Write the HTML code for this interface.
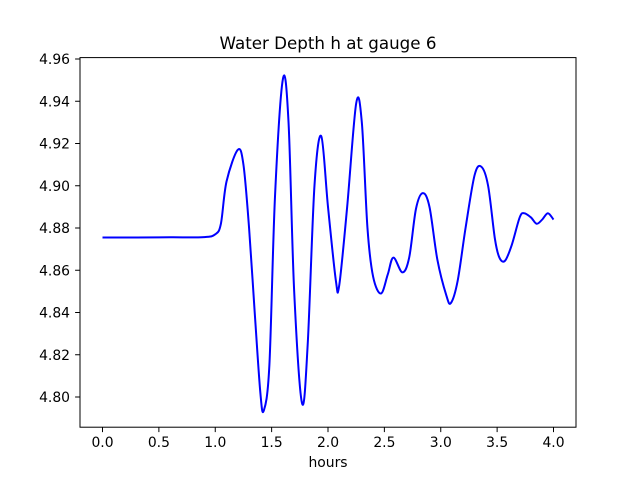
<!DOCTYPE html>
<html><head><meta charset="utf-8"><style>
body{margin:0;background:#fff;}
svg{display:block;font-family:"DejaVu Sans","Liberation Sans",sans-serif;}
</style></head><body>
<svg id="c" width="640" height="480"></svg>
<script>
const xs=[0,0.3,0.6,0.9,1.0,1.05,1.1,1.2,1.25,1.3,1.35,1.4,1.43,1.48,1.53,1.6,1.65,1.7,1.77,1.82,1.88,1.94,2.0,2.07,2.1,2.17,2.25,2.3,2.35,2.4,2.47,2.53,2.58,2.66,2.72,2.78,2.84,2.9,2.97,3.05,3.09,3.15,3.22,3.3,3.36,3.42,3.48,3.52,3.57,3.63,3.7,3.74,3.8,3.85,3.9,3.95,4.0];
const ys=[4.8755,4.8755,4.8756,4.8757,4.877,4.882,4.902,4.917,4.91,4.88,4.84,4.802,4.7935,4.815,4.895,4.9505,4.93,4.85,4.797,4.825,4.9,4.9235,4.89,4.855,4.853,4.89,4.939,4.93,4.88,4.857,4.849,4.858,4.866,4.859,4.866,4.889,4.8965,4.89,4.865,4.848,4.8445,4.855,4.88,4.905,4.909,4.9,4.875,4.866,4.8645,4.872,4.885,4.887,4.885,4.882,4.884,4.887,4.884];
const xTicks=[0,0.5,1,1.5,2,2.5,3,3.5,4];
const xTickLabels=["0.0","0.5","1.0","1.5","2.0","2.5","3.0","3.5","4.0"];
const yTicks=[4.80,4.82,4.84,4.86,4.88,4.90,4.92,4.94,4.96];
const yTickLabels=["4.80","4.82","4.84","4.86","4.88","4.90","4.92","4.94","4.96"];
const NS="http://www.w3.org/2000/svg";
const svg=document.getElementById('c');
const X=v=>102.5+v*112.75;
const Y=v=>59+(4.96-v)*2112.5;
function mk(t,a,p){const e=document.createElementNS(NS,t);for(const k in a)e.setAttribute(k,a[k]);(p||svg).appendChild(e);return e;}
let d=`M${X(xs[0])},${Y(ys[0])}`;
for(let i=0;i<xs.length-1;i++){
 const p0=i>0?i-1:i,p3=i+2<xs.length?i+2:i+1;
 const x0=X(xs[p0]),y0=Y(ys[p0]),x1=X(xs[i]),y1=Y(ys[i]),x2=X(xs[i+1]),y2=Y(ys[i+1]),x3=X(xs[p3]),y3=Y(ys[p3]);
 d+=` C${x1+(x2-x0)/6},${y1+(y2-y0)/6} ${x2-(x3-x1)/6},${y2-(y3-y1)/6} ${x2},${y2}`;
}
const line=mk('path',{d:d,fill:'none',stroke:'#0000ff','stroke-width':2});


const frame=mk('rect',{x:80,y:57.6,width:496,height:369.6,fill:'none',stroke:'#000','stroke-width':1});


xTicks.forEach((v,i)=>{
 mk('line',{x1:X(v),x2:X(v),y1:427.2,y2:432.1,stroke:'#000'});
 const t=mk('text',{x:X(v),y:447,'font-size':13.9,'text-anchor':'middle'});t.textContent=xTickLabels[i];
 
 
});
yTicks.forEach((v,i)=>{
 mk('line',{x1:75.1,x2:80,y1:Y(v),y2:Y(v),stroke:'#000'});
 const t=mk('text',{x:70,y:Y(v)+5,'font-size':13.9,'text-anchor':'end'});t.textContent=yTickLabels[i];
 
 
});
const xl=mk('text',{x:328,y:467,'font-size':13.9,'text-anchor':'middle'});xl.textContent='hours';


const ti=mk('text',{x:328,y:49,'font-size':16.7,'text-anchor':'middle'});ti.textContent='Water Depth h at gauge 6';


</script>
</body></html>
